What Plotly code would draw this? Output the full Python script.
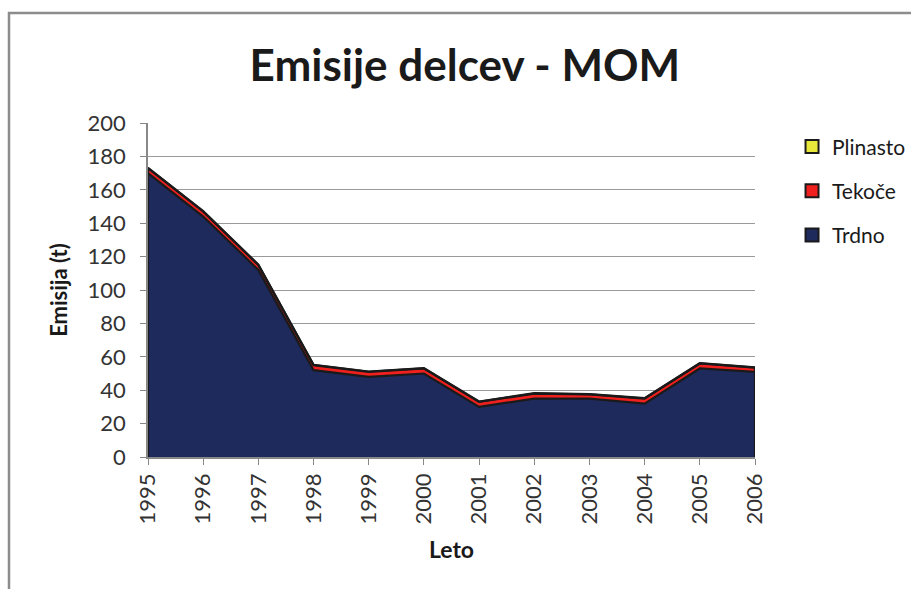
import plotly.graph_objects as go

# Annual particle emissions in Ljubljana (MOM), tonnes, by fuel type
years = [1995, 1996, 1997, 1998, 1999, 2000, 2001, 2002, 2003, 2004, 2005, 2006]
trdno = [170, 144, 112, 52, 48, 50, 30, 35, 35, 32, 53, 51]
tekoce = [3, 3, 3, 3, 3, 3, 3, 3, 2.5, 3, 3, 2.5]
plinasto = [0.2, 0.2, 0.2, 0.2, 0.2, 0.2, 0.2, 0.2, 0.2, 0.2, 0.2, 0.2]
y_ticks = list(range(0, 201, 20))

series = [
    ("Trdno", trdno, "#1f2a5c"),
    ("Tekoče", tekoce, "#f0201e"),
    ("Plinasto", plinasto, "#e8e83a"),
]

FONT = "Lato, 'Open Sans', sans-serif"
EDGE = "#1a1a1a"

fig = go.Figure()
for name, vals, color in series:
    fig.add_trace(go.Scatter(
        x=years, y=vals, name=name, mode="lines",
        stackgroup="s", fillcolor=color,
        line=dict(color=EDGE, width=2.2),
        showlegend=False,
    ))

# closing edges of the stacked area at both ends
total = [a + b + c for a, b, c in zip(trdno, tekoce, plinasto)]
for idx in (0, -1):
    fig.add_trace(go.Scatter(
        x=[years[idx], years[idx]], y=[0, total[idx]], mode="lines",
        line=dict(color=EDGE, width=2.2), showlegend=False,
        hoverinfo="skip",
    ))

# square legend keys, listed top-down as Plinasto, Tekoče, Trdno
for rank, (name, vals, color) in enumerate(reversed(series)):
    fig.add_trace(go.Scatter(
        x=[None], y=[None], name=name, mode="markers",
        marker=dict(symbol="square", size=13, color=color,
                    line=dict(color=EDGE, width=2)),
        legendgroup=name, legendrank=rank + 1,
    ))

fig.update_layout(
    width=911, height=589,
    margin=dict(l=148, r=156, t=123, b=132, autoexpand=False),
    paper_bgcolor="white", plot_bgcolor="white",
    font=dict(family=FONT, color="#333333"),
    title=dict(text="<b>Emisije delcev - MOM</b>", x=0.522, xanchor="center",
               xref="paper", y=0.888, yanchor="middle",
               font=dict(size=44, color="#1a1a1a", family=FONT)),
    legend=dict(x=1.061, y=0.99, xanchor="left", yanchor="top",
                font=dict(size=21, color="#1a1a1a"),
                traceorder="grouped", tracegroupgap=14,
                itemwidth=30,
                bgcolor="rgba(0,0,0,0)"),
    showlegend=True,
)

fig.update_xaxes(
    range=[years[0], years[-1]], tickmode="array", tickvals=years,
    ticktext=[str(y) for y in years], tickangle=-90,
    ticks="outside", ticklen=6, tickcolor="#888888",
    showline=True, linecolor="#888888", linewidth=1.5,
    showgrid=False, zeroline=False,
    tickfont=dict(size=22, color="#333333"),
    title=dict(text="<b>Leto</b>", font=dict(size=23, color="#1a1a1a"), standoff=18),
)
fig.update_yaxes(
    range=[0, 200], tickmode="array", tickvals=y_ticks,
    ticks="outside", ticklen=6, tickcolor="#888888",
    showline=True, linecolor="#888888", linewidth=1.5,
    showgrid=True, gridcolor="#9a9a9a", gridwidth=1, zeroline=False,
    tickfont=dict(size=22, color="#333333"), ticklabelstandoff=10,
    title=dict(text="<b>Emisija (t)</b>", font=dict(size=22, color="#1a1a1a"), standoff=14),
)

# outer chart frame
fig.add_shape(type="rect", xref="paper", yref="paper",
              x0=-0.229, y0=-0.6, x1=1.5, y1=1.329,
              line=dict(color="#8c8c8c", width=2.5), fillcolor="rgba(0,0,0,0)",
              layer="below")

fig.write_html("out.html")
